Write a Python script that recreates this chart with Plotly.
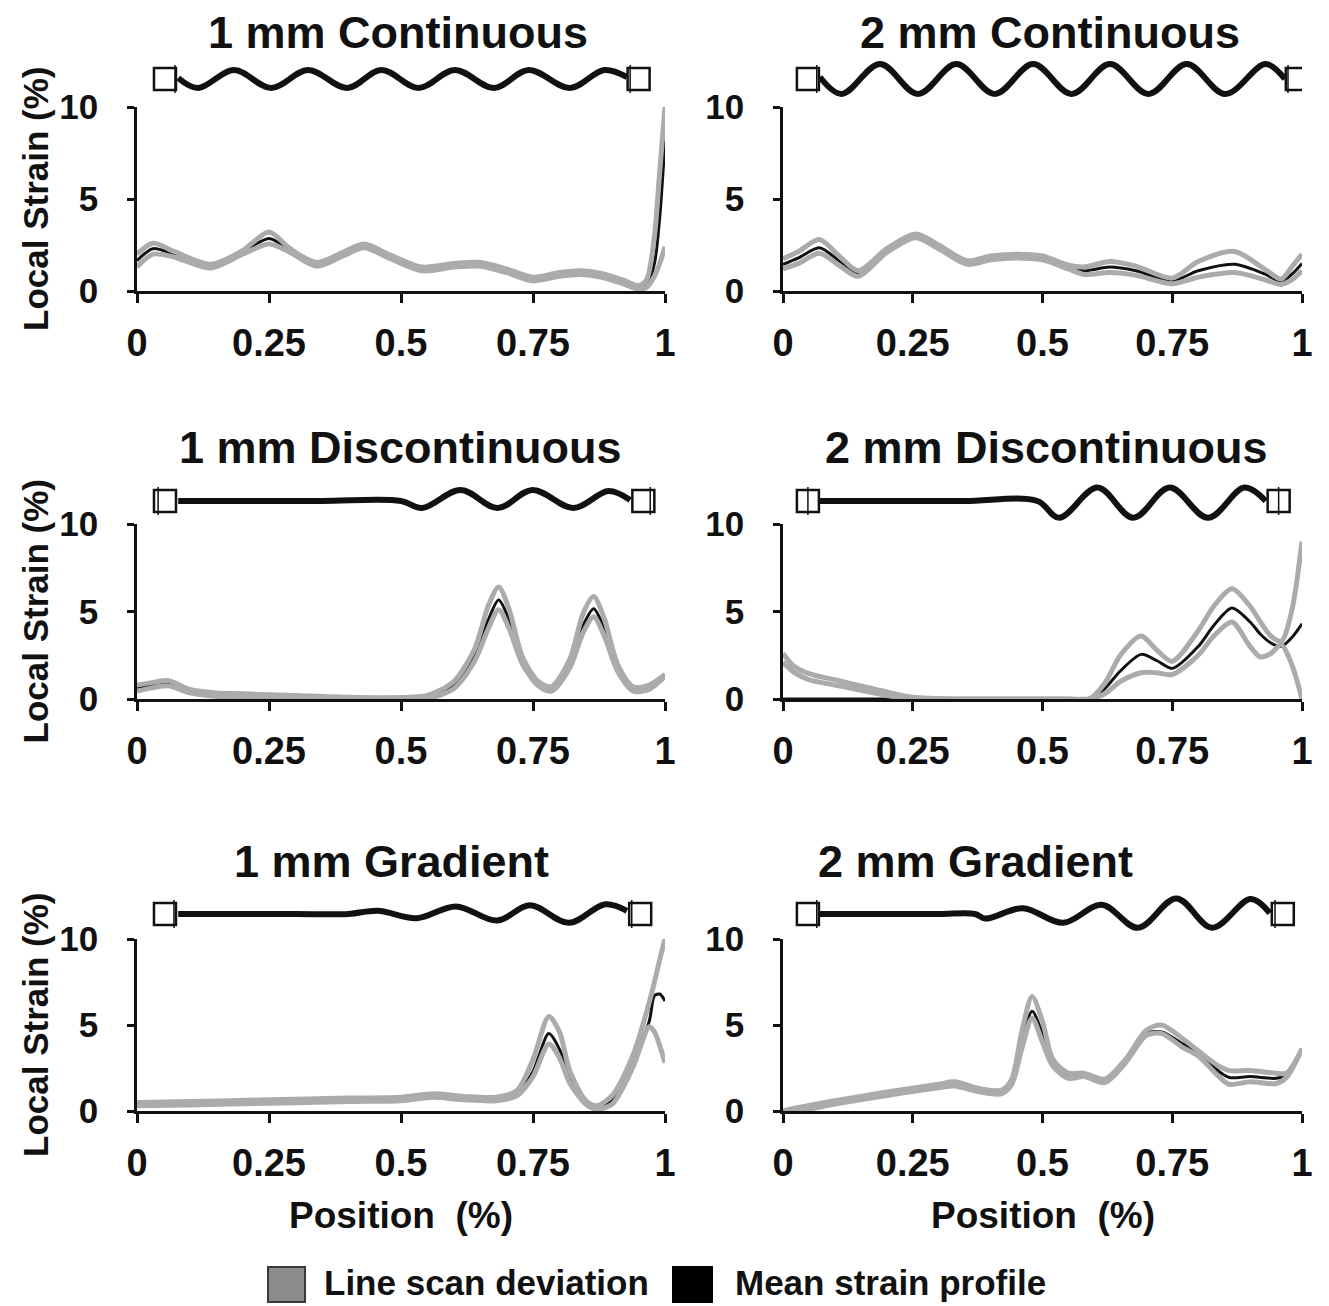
import plotly.graph_objects as go

W, H = 1329, 1306

titles = ["1 mm Continuous", "2 mm Continuous",
          "1 mm Discontinuous", "2 mm Discontinuous",
          "1 mm Gradient", "2 mm Gradient"]

x_ticks = [0, 0.25, 0.5, 0.75, 1]
x_ticktext = ["0", "0.25", "0.5", "0.75", "1"]
y_ticks = [0, 5, 10]

# ---- strain profiles: position, mean, deviation upper/lower
a_x = [0.00, 0.03, 0.07, 0.14, 0.20, 0.25, 0.29, 0.34, 0.39, 0.43, 0.48, 0.54, 0.60,
       0.65, 0.70, 0.75, 0.80, 0.84, 0.88, 0.92, 0.95, 0.965, 0.98, 0.99, 1.00]
a_mean = [1.65, 2.3, 2.0, 1.35, 2.1, 2.85, 2.2, 1.45, 2.0, 2.45, 1.85, 1.2, 1.4,
          1.45, 1.1, 0.65, 0.9, 1.0, 0.85, 0.5, 0.2, 0.3, 1.5, 4.0, 8.2]
a_up = [2.0, 2.6, 2.15, 1.45, 2.2, 3.2, 2.3, 1.55, 2.1, 2.55, 1.95, 1.3, 1.5,
        1.55, 1.2, 0.75, 1.0, 1.1, 0.95, 0.6, 0.3, 0.6, 3.0, 6.5, 10.0]
a_lo = [1.3, 2.0, 1.85, 1.25, 2.0, 2.55, 2.1, 1.35, 1.9, 2.35, 1.75, 1.1, 1.3,
        1.35, 1.0, 0.55, 0.8, 0.9, 0.75, 0.4, 0.1, 0.2, 0.8, 1.5, 2.4]

b_x = [0.00, 0.03, 0.07, 0.11, 0.145, 0.20, 0.256, 0.30, 0.355, 0.40, 0.45, 0.50,
       0.55, 0.58, 0.63, 0.68, 0.75, 0.80, 0.87, 0.93, 0.96, 0.98, 1.00]
b_mean = [1.45, 1.8, 2.35, 1.6, 0.95, 2.2, 3.0, 2.4, 1.55, 1.8, 1.9, 1.8,
          1.3, 1.1, 1.3, 1.1, 0.55, 1.1, 1.45, 0.9, 0.5, 0.9, 1.5]
b_up = [1.75, 2.15, 2.8, 1.85, 1.1, 2.3, 3.1, 2.5, 1.65, 1.9, 2.0, 1.9,
        1.4, 1.3, 1.6, 1.35, 0.7, 1.6, 2.15, 1.15, 0.65, 1.3, 2.0]
b_lo = [1.2, 1.5, 2.05, 1.35, 0.8, 2.1, 2.9, 2.3, 1.45, 1.7, 1.8, 1.7,
        1.2, 0.9, 1.0, 0.85, 0.4, 0.75, 1.0, 0.6, 0.35, 0.6, 1.1]

c_x = [0.00, 0.03, 0.06, 0.10, 0.15, 0.20, 0.30, 0.40, 0.50, 0.55, 0.60, 0.64, 0.665,
       0.685, 0.705, 0.73, 0.76, 0.785, 0.82, 0.845, 0.865, 0.885, 0.91, 0.94, 0.97, 1.00]
c_mean = [0.6, 0.8, 0.9, 0.45, 0.25, 0.2, 0.1, 0.05, 0.02, 0.1, 0.8, 2.5, 4.5,
          5.65, 4.5, 2.2, 0.9, 0.6, 2.0, 4.2, 5.15, 4.0, 1.8, 0.6, 0.7, 1.4]
c_up = [0.8, 0.95, 1.05, 0.55, 0.35, 0.3, 0.2, 0.1, 0.08, 0.2, 1.0, 2.9, 5.3,
        6.4, 5.1, 2.4, 1.0, 0.7, 2.3, 4.9, 5.85, 4.6, 2.0, 0.7, 0.8, 1.4]
c_lo = [0.45, 0.65, 0.75, 0.35, 0.15, 0.1, 0.02, 0.0, 0.0, 0.02, 0.6, 2.2, 4.0,
        5.1, 4.0, 2.0, 0.75, 0.45, 1.8, 3.8, 4.7, 3.6, 1.6, 0.45, 0.55, 1.3]

d_x = [0.00, 0.02, 0.05, 0.10, 0.15, 0.20, 0.25, 0.35, 0.45, 0.55, 0.59, 0.62, 0.65,
       0.69, 0.72, 0.75, 0.80, 0.83, 0.865, 0.90, 0.92, 0.94, 0.96, 0.98, 1.00]
d_mean = [0.0, 0.0, 0.0, 0.0, 0.0, 0.0, 0.0, 0.0, 0.0, 0.0, 0.0, 0.6, 1.6,
          2.55, 2.2, 1.75, 3.0, 4.2, 5.2, 4.4, 3.7, 3.2, 3.0, 3.5, 4.3]
d_up = [2.6, 1.9, 1.45, 1.1, 0.75, 0.4, 0.1, 0.0, 0.0, 0.0, 0.0, 0.9, 2.5,
        3.6, 2.8, 2.15, 3.9, 5.3, 6.3, 5.3, 4.4, 3.6, 3.3, 5.0, 9.0]
d_lo = [2.1, 1.55, 1.1, 0.8, 0.5, 0.2, 0.0, 0.0, 0.0, 0.0, 0.0, 0.3, 1.0,
        1.5, 1.5, 1.4, 2.5, 3.6, 4.4, 3.0, 2.4, 2.6, 3.1, 2.0, 0.0]

e_x = [0.00, 0.10, 0.25, 0.40, 0.50, 0.56, 0.62, 0.68, 0.72, 0.75, 0.78, 0.80, 0.82,
       0.85, 0.87, 0.90, 0.94, 0.97, 0.98, 0.99, 1.00]
e_mean = [0.4, 0.45, 0.55, 0.65, 0.7, 0.9, 0.75, 0.7, 1.0, 2.3, 4.5, 3.6, 2.0,
          0.5, 0.2, 0.6, 3.0, 5.2, 6.7, 6.8, 6.4]
e_up = [0.5, 0.55, 0.65, 0.75, 0.8, 1.0, 0.85, 0.8, 1.2, 3.0, 5.5, 4.6, 2.3,
        0.6, 0.3, 0.9, 3.3, 6.3, 7.5, 8.8, 10.0]
e_lo = [0.3, 0.35, 0.45, 0.55, 0.6, 0.8, 0.65, 0.6, 0.9, 2.0, 3.9, 3.1, 1.6,
        0.4, 0.1, 0.4, 2.6, 4.9, 4.6, 3.8, 2.8]

f_x = [0.00, 0.03, 0.10, 0.20, 0.30, 0.33, 0.38, 0.42, 0.44, 0.46, 0.48, 0.50, 0.52,
       0.55, 0.58, 0.62, 0.66, 0.70, 0.73, 0.77, 0.80, 0.84, 0.86, 0.90, 0.95, 0.97, 1.00]
f_mean = [0.0, 0.1, 0.5, 1.0, 1.45, 1.55, 1.2, 1.1, 1.6, 4.0, 5.8, 4.5, 2.8,
          2.05, 2.1, 1.75, 2.9, 4.5, 4.6, 3.9, 3.4, 2.3, 1.95, 2.0, 1.9, 2.1, 3.6]
f_up = [0.0, 0.2, 0.6, 1.1, 1.55, 1.7, 1.3, 1.2, 1.8, 4.6, 6.65, 5.2, 3.0,
        2.2, 2.2, 1.85, 3.0, 4.7, 5.0, 4.2, 3.5, 2.6, 2.35, 2.35, 2.2, 2.2, 3.6]
f_lo = [0.0, 0.0, 0.4, 0.9, 1.35, 1.45, 1.1, 1.0, 1.5, 3.6, 5.4, 4.0, 2.6,
        1.9, 2.0, 1.65, 2.8, 4.4, 4.5, 3.7, 3.2, 2.0, 1.55, 1.7, 1.6, 1.95, 3.6]

# ---- schematic of each scaffold fibre (turning points), drawn above each panel
sa_x = [0.078, 0.115, 0.184, 0.254, 0.324, 0.398, 0.463, 0.533, 0.602, 0.676, 0.742, 0.820, 0.885, 0.928]
sa_y = [0.05, -0.45, 0.45, -0.45, 0.45, -0.45, 0.45, -0.45, 0.45, -0.45, 0.45, -0.45, 0.45, 0.1]
sb_x = [0.071, 0.113, 0.187, 0.260, 0.334, 0.408, 0.482, 0.556, 0.630, 0.704, 0.778, 0.852, 0.930, 0.967]
sb_y = [0.1, -0.75, 0.75, -0.75, 0.75, -0.75, 0.75, -0.75, 0.75, -0.75, 0.75, -0.75, 0.75, 0.0]
sc_x = [0.078, 0.2, 0.35, 0.5, 0.54, 0.613, 0.683, 0.749, 0.827, 0.893, 0.934]
sc_y = [0.0, 0.0, 0.0, 0.0, -0.35, 0.55, -0.35, 0.55, -0.35, 0.5, 0.05]
sd_x = [0.071, 0.2, 0.35, 0.49, 0.532, 0.606, 0.675, 0.745, 0.819, 0.889, 0.93]
sd_y = [0.0, 0.0, 0.0, 0.0, -0.84, 0.67, -0.84, 0.67, -0.84, 0.67, 0.0]
se_x = [0.078, 0.2, 0.3, 0.4, 0.456, 0.53, 0.604, 0.682, 0.744, 0.818, 0.887, 0.928]
se_y = [0.0, 0.0, 0.0, 0.0, 0.16, -0.21, 0.38, -0.33, 0.44, -0.44, 0.49, 0.16]
sf_x = [0.071, 0.2, 0.3, 0.37, 0.39, 0.462, 0.54, 0.614, 0.684, 0.758, 0.827, 0.901, 0.938]
sf_y = [0.0, 0.0, 0.0, 0.0, -0.23, 0.29, -0.44, 0.46, -0.69, 0.78, -0.69, 0.75, 0.05]

# clamp squares: (left, left inner bar, right, right inner bar)
clamps = [(0.053, 0.072, 0.950, 0.934),
          (0.048, 0.065, 0.990, 0.973),
          (0.053, 0.040, 0.959, 0.972),
          (0.048, 0.048, 0.955, 0.955),
          (0.053, 0.070, 0.953, 0.937),
          (0.048, 0.065, 0.963, 0.948)]

profiles = [(a_x, a_mean, a_up, a_lo), (b_x, b_mean, b_up, b_lo),
            (c_x, c_mean, c_up, c_lo), (d_x, d_mean, d_up, d_lo),
            (e_x, e_mean, e_up, e_lo), (f_x, f_mean, f_up, f_lo)]
schematics = [(sa_x, sa_y), (sb_x, sb_y), (sc_x, sc_y),
              (sd_x, sd_y), (se_x, se_y), (sf_x, sf_y)]

# ---- layout geometry in pixels
col_px = [(137, 665), (783, 1302)]
row_px = [(107, 291), (524, 699), (939, 1111)]      # y=10 pixel, y=0 pixel
schem_px = [79, 501, 914]                            # centre line of schematics
title_px = [(398, 33), (1050, 33), (400, 448), (1046, 448), (391, 861), (976, 861)]

FONT = "Liberation Sans, Arial, sans-serif"
GREY = "#ababab"
INK = "#111111"


def px(x):
    return x / W


def py(y):
    return 1 - y / H


fig = go.Figure()
layout = dict(width=W, height=H, margin=dict(l=0, r=0, t=0, b=0, autoexpand=False),
              paper_bgcolor="white", plot_bgcolor="white", showlegend=False,
              font=dict(family=FONT, color=INK, weight="bold"))
annotations = []

for i in range(6):
    r, c = divmod(i, 2)
    n = i + 1
    s = i + 7
    x0, x1 = col_px[c]
    ytop, ybot = row_px[r]
    xs, mean, up, lo = profiles[i]

    fig.add_trace(go.Scatter(x=xs, y=mean, mode="lines", xaxis=f"x{n}", yaxis=f"y{n}",
                             line=dict(color=INK, width=3, shape="spline", smoothing=0.8)))
    for band in (up, lo):
        fig.add_trace(go.Scatter(x=xs, y=band, mode="lines", xaxis=f"x{n}", yaxis=f"y{n}",
                                 line=dict(color=GREY, width=5, shape="spline", smoothing=0.8)))

    layout[f"xaxis{n}"] = dict(domain=[px(x0), px(x1)], range=[0, 1], anchor=f"y{n}",
                               automargin=False,
                               tickvals=x_ticks, ticktext=x_ticktext, showgrid=False,
                               zeroline=False, showline=True, linecolor=INK, linewidth=2.5,
                               ticks="outside", ticklen=9, tickwidth=2.5, tickcolor=INK,
                               ticklabelstandoff=8,
                               tickfont=dict(size=38, family=FONT, color=INK, weight="bold"))
    layout[f"yaxis{n}"] = dict(domain=[py(ybot), py(ytop)], range=[0, 10], anchor=f"x{n}",
                               automargin=False,
                               tickvals=y_ticks, showgrid=False, zeroline=False,
                               showline=True, linecolor=INK, linewidth=2.5,
                               ticks="outside", ticklen=7, tickwidth=2.5, tickcolor=INK,
                               ticklabelstandoff=22,
                               tickfont=dict(size=35, family=FONT, color=INK, weight="bold"))

    # schematic fibre
    sx, sy = schematics[i]
    cy = schem_px[r]
    fig.add_trace(go.Scatter(x=sx, y=sy, mode="lines", xaxis=f"x{s}", yaxis=f"y{s}",
                             line=dict(color=INK, width=6, shape="spline", smoothing=1.0)))
    cl, cli, cr, cri = clamps[i]
    fig.add_trace(go.Scatter(x=[cl, cr], y=[0, 0], mode="markers", xaxis=f"x{s}", yaxis=f"y{s}",
                             marker=dict(symbol="square", size=22, color="white",
                                         line=dict(color=INK, width=2.5))))
    fig.add_trace(go.Scatter(x=[cli, cri], y=[0, 0], mode="markers", xaxis=f"x{s}", yaxis=f"y{s}",
                             marker=dict(symbol="line-ns", size=20,
                                         line=dict(color=INK, width=1.5))))
    layout[f"xaxis{s}"] = dict(domain=[px(x0), px(x1)], range=[0, 1], anchor=f"y{s}",
                               visible=False, automargin=False)
    layout[f"yaxis{s}"] = dict(domain=[py(cy + 22), py(cy - 22)], range=[-1.1, 1.1],
                               anchor=f"x{s}", visible=False, automargin=False)

    tx, ty = title_px[i]
    annotations.append(dict(text=titles[i], x=px(tx), y=py(ty), xref="paper", yref="paper",
                            showarrow=False, xanchor="center", yanchor="middle",
                            font=dict(size=45, family=FONT, color=INK, weight="bold")))
    if c == 0:
        annotations.append(dict(text="Local Strain (%)", x=px(35), y=py((ytop + ybot) / 2),
                                xref="paper", yref="paper", showarrow=False, textangle=-90,
                                xanchor="center", yanchor="middle",
                                font=dict(size=35, family=FONT, color=INK, weight="bold")))
    if r == 2:
        annotations.append(dict(text="Position  (%)", x=px((x0 + x1) / 2), y=py(1215),
                                xref="paper", yref="paper", showarrow=False,
                                xanchor="center", yanchor="middle",
                                font=dict(size=37, family=FONT, color=INK, weight="bold")))

# legend drawn by hand so the swatches match the large squares of the original
shapes = [dict(type="rect", xref="paper", yref="paper", x0=px(268), x1=px(305),
               y0=py(1302), y1=py(1267), fillcolor="#8c8c8c", line=dict(color="#3a3a3a", width=2)),
          dict(type="rect", xref="paper", yref="paper", x0=px(673), x1=px(712),
               y0=py(1302), y1=py(1267), fillcolor="#000000", line=dict(color="#000000", width=2))]
annotations.append(dict(text="Line scan deviation", x=px(322), y=py(1282), xref="paper",
                        yref="paper", showarrow=False, xanchor="left", yanchor="middle",
                        font=dict(size=35, family=FONT, color=INK, weight="bold")))
annotations.append(dict(text="Mean strain profile", x=px(733), y=py(1282), xref="paper",
                        yref="paper", showarrow=False, xanchor="left", yanchor="middle",
                        font=dict(size=35, family=FONT, color=INK, weight="bold")))

layout["annotations"] = annotations
layout["shapes"] = shapes
fig.update_layout(**layout)
# drop the browser's default body margin so the figure sits at the page origin
fig.write_html("out.html", config={"displayModeBar": False},
               post_script="document.body.style.margin = '0';")
